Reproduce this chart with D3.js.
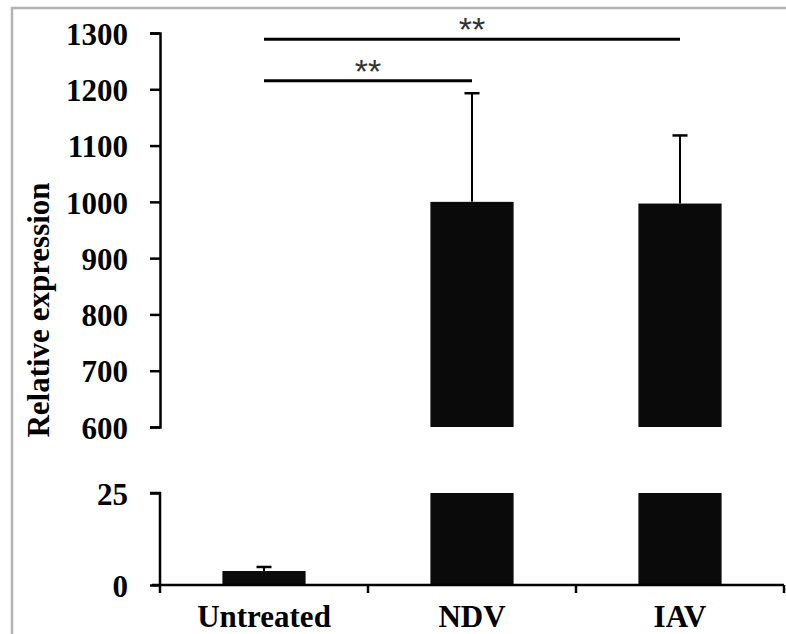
<!DOCTYPE html>
<html>
<head>
<meta charset="utf-8">
<script src="https://cdn.jsdelivr.net/npm/d3@7"></script>
<style>
  body { margin: 0; background: #fff; }
  svg { display: block; }
  .tick text { font-family: "Liberation Serif", "Times New Roman", serif; font-weight: bold; font-size: 31px; fill: #000; }
</style>
</head>
<body>
<svg width="786" height="634"></svg>
<script>
// data
const categories = ["Untreated", "NDV", "IAV"];
const means = [3.8, 1000, 997];
const errors = [1.1, 193, 121];
const upperTicks = [600, 700, 800, 900, 1000, 1100, 1200, 1300];
const lowerTicks = [0, 25];
const sigPairs = [[0, 1], [0, 2]];
const sigLevels = [1215, 1289];
const sigLabels = ["**", "**"];

const svg = d3.select("svg");

// frame (only top/left visible in the crop)
svg.append("rect")
  .attr("x", 12).attr("y", 8)
  .attr("width", 900).attr("height", 800)
  .attr("fill", "none")
  .attr("stroke", "#b3b3b3")
  .attr("stroke-width", 2.5);

const axisX = 160;
const x = d3.scaleBand().domain(categories).range([axisX, 784]).paddingInner(0.6).paddingOuter(0.3);
const yUp = d3.scaleLinear().domain([600, 1300]).range([427, 33]);
const yLo = d3.scaleLinear().domain([0, 25]).range([585, 493]);

const g = svg.append("g");

// bars - lower panel (clipped at 25)
g.selectAll(".barLo")
  .data(categories)
  .join("rect")
  .attr("x", d => x(d))
  .attr("width", x.bandwidth())
  .attr("y", (d, i) => yLo(Math.min(means[i], 25)))
  .attr("height", (d, i) => yLo(0) - yLo(Math.min(means[i], 25)))
  .attr("fill", "#0a0a0a");

// bars - upper panel
const upIdx = categories.map((d, i) => i).filter(i => means[i] > 600);
g.selectAll(".barUp")
  .data(upIdx)
  .join("rect")
  .attr("x", i => x(categories[i]))
  .attr("width", x.bandwidth())
  .attr("y", i => yUp(means[i]))
  .attr("height", i => yUp(600) - yUp(means[i]))
  .attr("fill", "#0a0a0a");

// error bars (upward only)
categories.forEach((c, i) => {
  const cx = x(c) + x.bandwidth() / 2;
  const ys = means[i] > 600 ? yUp : yLo;
  const y0 = ys(means[i]), y1 = ys(means[i] + errors[i]);
  g.append("line").attr("x1", cx).attr("x2", cx).attr("y1", y0).attr("y2", y1)
    .attr("stroke", "#000").attr("stroke-width", 2);
  g.append("line").attr("x1", cx - 7.5).attr("x2", cx + 7.5).attr("y1", y1).attr("y2", y1)
    .attr("stroke", "#000").attr("stroke-width", 2.5);
});

// y axes
function styleAxis(sel) {
  sel.select(".domain").attr("stroke", "#000").attr("stroke-width", 2.5);
  sel.selectAll(".tick line").attr("stroke", "#000").attr("stroke-width", 2.5);
  sel.selectAll(".tick text").attr("dy", "0.36em");
}

g.append("g")
  .attr("transform", "translate(" + axisX + ",0)")
  .call(d3.axisLeft(yUp).tickValues(upperTicks).tickSize(10).tickSizeOuter(10).tickPadding(22).tickFormat(d3.format("d")))
  .call(styleAxis);

g.append("g")
  .attr("transform", "translate(" + axisX + ",0)")
  .call(d3.axisLeft(yLo).tickValues(lowerTicks).tickSize(10).tickSizeOuter(0).tickPadding(22))
  .call(styleAxis)
  .select(".domain")
  .attr("d", "M-10," + yLo(25) + "H0V" + (yLo(0) + 8));

// x axis
const xAxis = g.append("g")
  .attr("transform", "translate(0," + yLo(0) + ")")
  .call(d3.axisBottom(x).tickSize(0).tickPadding(20))
  .call(styleAxis);
xAxis.select(".domain").attr("d", "M" + (axisX - 8) + ",0H784");
xAxis.selectAll(".tick text").attr("dy", "0.71em");

// boundary ticks between categories
const bounds = categories.slice(1).map(c => x(c) - x.step() * x.paddingInner() / 2).concat([784]);
g.selectAll(".bTick")
  .data(bounds)
  .join("line")
  .attr("x1", d => d).attr("x2", d => d)
  .attr("y1", yLo(0)).attr("y2", yLo(0) + 8)
  .attr("stroke", "#000").attr("stroke-width", 2.5);

// y title
svg.append("text")
  .attr("transform", "translate(49,310) rotate(-90)")
  .attr("text-anchor", "middle")
  .attr("font-family", "Liberation Serif, Times New Roman, serif")
  .attr("font-weight", "bold")
  .attr("font-size", 31)
  .text("Relative expression");

// significance brackets
sigPairs.forEach((p, k) => {
  const xa = x(categories[p[0]]) + x.bandwidth() / 2;
  const xb = x(categories[p[1]]) + x.bandwidth() / 2;
  const yy = yUp(sigLevels[k]);
  g.append("line").attr("x1", xa).attr("x2", xb).attr("y1", yy).attr("y2", yy)
    .attr("stroke", "#000").attr("stroke-width", 3);
  g.append("text")
    .attr("x", (xa + xb) / 2)
    .attr("y", yy + 2)
    .attr("text-anchor", "middle")
    .attr("font-family", "Liberation Sans, Arial, sans-serif")
    .attr("font-size", 34)
    .attr("fill", "#333")
    .text(sigLabels[k]);
});
</script>
</body>
</html>
